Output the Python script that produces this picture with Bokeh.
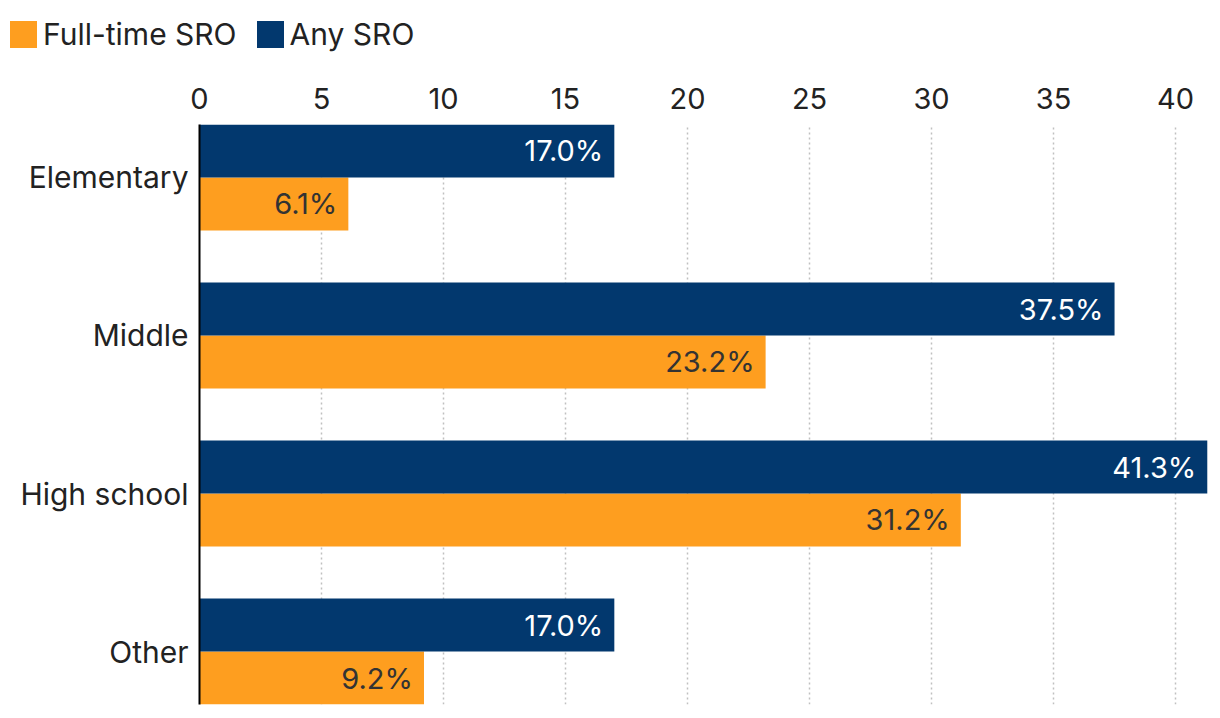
from bokeh.plotting import figure
from bokeh.models import ColumnDataSource, FixedTicker, Range1d, LabelSet, Div
from bokeh.layouts import column
from bokeh.core.properties import value
from bokeh.embed import file_html
from bokeh.resources import INLINE

categories = ["Elementary", "Middle", "High school", "Other"]
full_time = [6.1, 23.2, 31.2, 9.2]
any_sro = [17.0, 37.5, 41.3, 17.0]
x_ticks = [0, 5, 10, 15, 20, 25, 30, 35, 40]
series_names = ["Full-time SRO", "Any SRO"]

ORANGE = "#FE9E1F"
NAVY = "#02386E"
FONT = "Inter"
FS = "30px"
H = 0.335
LEG_H = 60

n = len(categories)
ypos = [n - 1 - i for i in range(n)]

p = figure(frame_width=1009, frame_height=580, output_backend="svg", toolbar_location=None,
           x_axis_location="above", x_range=Range1d(0, 41.35),
           y_range=Range1d(-H, n - 1 + H),
           min_border_left=199, min_border_right=4, min_border_top=124 - LEG_H, min_border_bottom=3)
p.outline_line_color = None

src_any = ColumnDataSource(dict(y=[v + H / 2 for v in ypos], right=any_sro,
                                lab=[f"{v:.1f}%" for v in any_sro]))
src_ft = ColumnDataSource(dict(y=[v - H / 2 for v in ypos], right=full_time,
                               lab=[f"{v:.1f}%" for v in full_time]))

p.hbar(y="y", left=0, right="right", height=H, source=src_ft, color=ORANGE, line_color=None)
p.hbar(y="y", left=0, right="right", height=H, source=src_any, color=NAVY, line_color=None)

p.add_layout(LabelSet(x="right", y="y", text="lab", source=src_any, x_offset=-11,
                      text_align="right", text_baseline="middle", text_color="white",
                      text_font=value(FONT), text_font_size="29px"))
p.add_layout(LabelSet(x="right", y="y", text="lab", source=src_ft, x_offset=-11,
                      text_align="right", text_baseline="middle", text_color="#333333",
                      text_font=value(FONT), text_font_size="29px"))

# x axis
xa = p.xaxis[0]
xa.ticker = FixedTicker(ticks=x_ticks)
xa.axis_line_color = None
xa.major_tick_line_color = None
xa.minor_tick_line_color = None
xa.major_label_text_font = FONT
xa.major_label_text_font_size = "29px"
xa.major_label_text_color = "#222222"
xa.major_label_standoff = 10

# y axis
ya = p.yaxis[0]
ya.ticker = FixedTicker(ticks=ypos)
ya.major_label_overrides = {v: c for v, c in zip(ypos, categories)}
ya.axis_line_color = "black"
ya.axis_line_width = 2
ya.major_tick_line_color = None
ya.minor_tick_line_color = None
ya.major_label_text_font = FONT
ya.major_label_text_font_size = FS
ya.major_label_text_color = "#222222"
ya.major_label_standoff = 5

p.ygrid.grid_line_color = None
p.xgrid.ticker = FixedTicker(ticks=x_ticks[1:])
p.xgrid.grid_line_color = "#c0c0c0"
p.xgrid.grid_line_dash = "2 3"
p.xgrid.grid_line_width = 1.5

# legend as HTML
def swatch(color, ml):
    return (f'<span style="display:inline-block;width:27px;height:27px;background:{color};'
            f'margin-left:{ml}px;margin-right:6px;"></span>')

html = (f'<div style="display:flex;align-items:center;font-family:{FONT};font-size:{FS};'
        f'color:#222222;padding-left:10px;padding-top:14px;line-height:40px;">'
        f'{swatch(ORANGE, 0)}<span>{series_names[0]}</span>'
        f'{swatch(NAVY, 20)}<span>{series_names[1]}</span></div>')
leg = Div(text=html, width=1212, height=LEG_H, margin=0)

layout = column(leg, p, spacing=0)
open("out.html", "w").write(file_html(layout, INLINE))
